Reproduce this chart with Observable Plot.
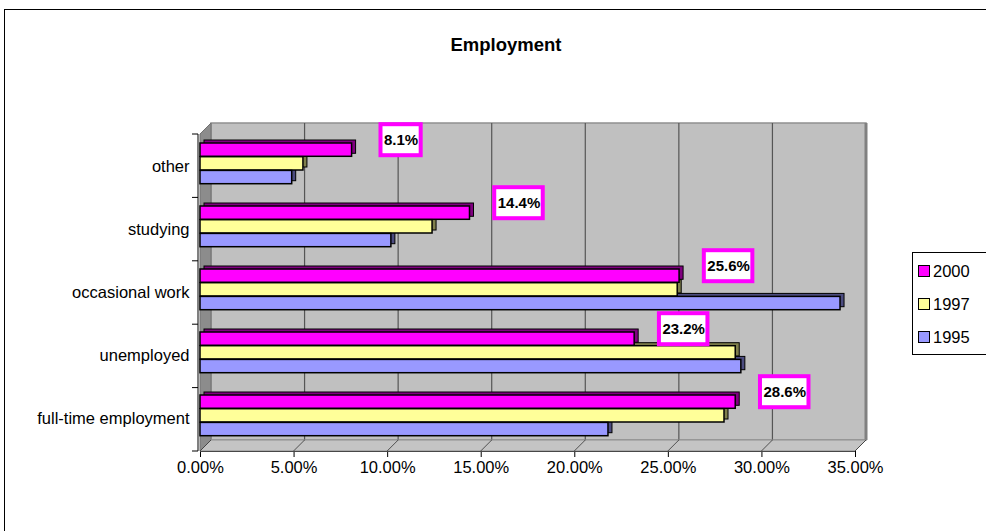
<!DOCTYPE html>
<html><head><meta charset="utf-8">
<script src="https://cdn.jsdelivr.net/npm/d3@7"></script>
<script src="https://cdn.jsdelivr.net/npm/@observablehq/plot@0.6"></script>
<style>
html,body{margin:0;padding:0;background:#fff;overflow:hidden}
#wrap{position:relative;width:986px;height:531px;font-family:"Liberation Sans",Arial,sans-serif}
#border{position:absolute;left:4px;top:9px;width:1000px;height:600px;border-left:1.5px solid #000;border-top:1.5px solid #000}
#chart{position:absolute;left:0;top:0}
#title{position:absolute;top:34px;left:0;width:1012px;text-align:center;font-weight:bold;font-size:18.5px;color:#000}
#legend{position:absolute;left:912px;top:252px;width:80px;height:103px;border:1px solid #000;background:#fff;box-sizing:border-box}
.li{position:absolute;left:5px;height:20px;display:flex;align-items:center;font-size:16.5px}
.sw{width:10px;height:10px;border:1px solid #000;margin-right:3px}
</style></head><body>
<div id="wrap">
  <div id="border"></div>
  <div id="chart"></div>
  <div id="title">Employment</div>
  <div id="legend"></div>
</div>
<script>
// ---- data ----
const categories = ["other", "studying", "occasional work", "unemployed", "full-time employment"];
const series = ["2000", "1997", "1995"];
const values2000 = [0.081, 0.144, 0.256, 0.232, 0.286];
const values1997 = [0.055, 0.124, 0.255, 0.286, 0.280];
const values1995 = [0.049, 0.102, 0.342, 0.289, 0.218];
const xTicks = [0, 0.05, 0.10, 0.15, 0.20, 0.25, 0.30, 0.35];
const colors = ["#FF00FF", "#FFFF99", "#9999FF"];
const sideColors = ["#800080", "#80804C", "#4C4C80"];
const labelColor = "#FF00FF";

// ---- layout / style constants ----
const W = 986, H = 531;
const mTop = 134, mBottom = 80, mLeft = 200, mRight = 131;
const D = 11;                       // wall depth (px)
const barOff = 8, barH = 13.7;      // bar placement within band
const bw = (H - mTop - mBottom) / categories.length;
const fmtLabel = d3.format(".1%");

const seriesValues = [values2000, values1997, values1995];
const rows = [];
series.forEach((s, i) => categories.forEach((c, k) => rows.push({category: c, series: s, value: seriesValues[i][k]})));
const labelRows = categories.map((c, k) => ({category: c, value: values2000[k], text: fmtLabel(values2000[k])}));

function decor(index, scales, values, dims) {
  const x = scales.x;
  const y0 = dims.marginTop, y1 = dims.height - dims.marginBottom;
  const xa = x(xTicks[0]), xb = x(xTicks[xTicks.length - 1]);
  const g = d3.create("svg:g");
  // back wall
  g.append("rect").attr("x", xa + D).attr("y", y0 - D).attr("width", xb - xa).attr("height", y1 - y0)
    .attr("fill", "#c0c0c0").attr("stroke", "#909090").attr("stroke-width", 1.5);
  g.append("line").attr("x1", xb + D).attr("x2", xb + D).attr("y1", y0 - D).attr("y2", y1 - D)
    .attr("stroke", "#808080").attr("stroke-width", 3);
  // gridlines on back wall
  xTicks.slice(1, -1).forEach(t => g.append("line").attr("x1", x(t) + D).attr("x2", x(t) + D)
    .attr("y1", y0 - D).attr("y2", y1 - D).attr("stroke", "#555").attr("stroke-width", 1.2));
  // left wall
  g.append("path").attr("d", `M${xa},${y0}L${xa + D},${y0 - D}L${xa + D},${y1 - D}L${xa},${y1}Z`)
    .attr("fill", "#8c8c8c").attr("stroke", "#707070");
  // floor
  g.append("path").attr("d", `M${xa},${y1}L${xb},${y1}L${xb + D},${y1 - D}L${xa + D},${y1 - D}Z`)
    .attr("fill", "#c4c4c4").attr("stroke", "#909090");
  xTicks.forEach(t => g.append("line").attr("x1", x(t)).attr("x2", x(t) + D)
    .attr("y1", y1).attr("y2", y1 - D).attr("stroke", "#333").attr("stroke-width", 0.8));
  // category axis line and band ticks
  g.append("line").attr("x1", xa - 2).attr("x2", xa - 2).attr("y1", y0).attr("y2", y1).attr("stroke", "#000");
  for (let k = 0; k <= categories.length; k++) {
    const yy = y0 + k * (y1 - y0) / categories.length;
    g.append("line").attr("x1", xa - 8).attr("x2", xa - 2).attr("y1", yy).attr("y2", yy).attr("stroke", "#000");
  }
  return g.node();
}

function labelBoxes(index, scales, values, dims) {
  const x = scales.x, y = scales.y;
  const g = d3.create("svg:g");
  const cw = {"%": 0.889, ".": 0.278};
  labelRows.forEach(d => {
    const tw = [...d.text].reduce((s, ch) => s + (cw[ch] || 0.556), 0) * 15;
    const w = tw + 6, h = 31;
    const cx = x(d.value) + 49, cy = y(d.category) + bw / 2 - 27;
    g.append("rect").attr("x", cx - w / 2).attr("y", cy - h / 2).attr("width", w).attr("height", h)
      .attr("fill", "#fff").attr("stroke", labelColor).attr("stroke-width", 4);
  });
  return g.node();
}

const backMarks = series.map((s, i) => Plot.barX(rows.filter(r => r.series === s), {
  x: "value", y: "category", fill: sideColors[i], stroke: "#000", strokeWidth: 1,
  insetTop: barOff + i * barH, insetBottom: bw - barOff - (i + 1) * barH, dx: 4, dy: -3
}));
const frontMarks = series.map((s, i) => Plot.barX(rows.filter(r => r.series === s), {
  x: "value", y: "category", fill: colors[i], stroke: "#000", strokeWidth: 1.5,
  insetTop: barOff + i * barH, insetBottom: bw - barOff - (i + 1) * barH
}));

const chart = Plot.plot({
  width: W, height: H,
  marginTop: mTop, marginBottom: mBottom, marginLeft: mLeft, marginRight: mRight,
  style: {fontFamily: "Liberation Sans, Arial, sans-serif", fontSize: "16.5px", background: "transparent", color: "#000"},
  x: {domain: [xTicks[0], xTicks[xTicks.length - 1]], ticks: xTicks, tickFormat: d3.format(".2%"),
      tickSize: 6, tickPadding: 4, line: true, label: null},
  y: {domain: categories, padding: 0, tickSize: 0, tickPadding: 11, label: null},
  marks: [
    decor,
    ...backMarks,
    ...frontMarks,
    labelBoxes,
    Plot.text(labelRows, {x: "value", y: "category", text: "text", dx: 49, dy: -27,
      fontWeight: "bold", fontSize: 15, fill: "#000"})
  ]
});
document.getElementById("chart").append(chart);

// legend
const leg = document.getElementById("legend");
series.forEach((s, i) => {
  const it = document.createElement("div");
  it.className = "li";
  it.style.top = (8 + i * 33) + "px";
  const sw = document.createElement("div");
  sw.className = "sw"; sw.style.background = colors[i];
  it.append(sw, document.createTextNode(s));
  leg.append(it);
});
</script>
</body></html>
